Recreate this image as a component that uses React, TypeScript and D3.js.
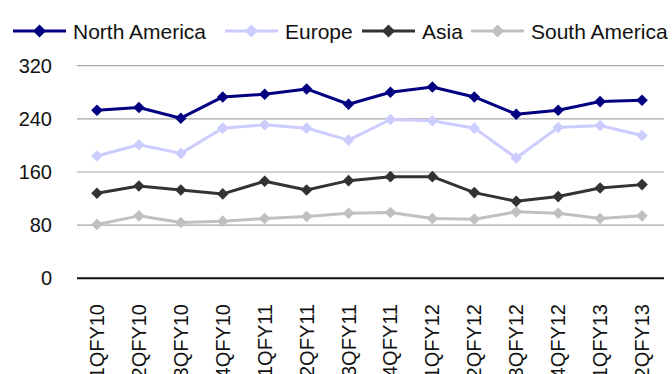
import React from "react";
import * as d3 from "d3";

const quarters = [
  "1QFY10", "2QFY10", "3QFY10", "4QFY10",
  "1QFY11", "2QFY11", "3QFY11", "4QFY11",
  "1QFY12", "2QFY12", "3QFY12", "4QFY12",
  "1QFY13", "2QFY13",
];

const northAmerica = [253, 257, 241, 273, 277, 285, 262, 280, 288, 273, 247, 253, 266, 268];
const europe = [184, 201, 188, 226, 231, 226, 208, 239, 237, 226, 181, 227, 230, 215];
const asia = [128, 139, 133, 127, 146, 133, 147, 153, 153, 129, 116, 123, 136, 141];
const southAmerica = [81, 94, 84, 86, 90, 93, 98, 99, 90, 89, 100, 98, 90, 94];

const yTicks = [0, 80, 160, 240, 320];

const seriesNames = ["North America", "Europe", "Asia", "South America"];
const seriesValues = [northAmerica, europe, asia, southAmerica];
const seriesColors = ["#000080", "#ccccff", "#333333", "#c0c0c0"];

const W = 672;
const H = 374;
const FONT = "'Liberation Sans', Arial, sans-serif";
// legend item left edges (layout only)
const legendX = [13, 225, 362, 471];

function Diamond({ x, y, r, color }: { x: number; y: number; r: number; color: string }) {
  return (
    <path
      d={`M${x},${y - r}L${x + r},${y}L${x},${y + r}L${x - r},${y}Z`}
      fill={color}
    />
  );
}

export default function App() {
  const x = d3.scalePoint<string>().domain(quarters).range([76, 663]).padding(0.5);
  const y = d3.scaleLinear().domain([0, 320]).range([278.3, 65.7]);

  const line = d3
    .line<number>()
    .x((_, i) => x(quarters[i]) as number)
    .y((d) => y(d));

  return (
    <svg
      width={W}
      height={H}
      style={{ position: "absolute", left: 0, top: 0, background: "#fff" }}
      fontFamily={FONT}
    >
      {/* gridlines */}
      {yTicks.map((t) => (
        <line
          key={t}
          x1={77}
          x2={664}
          y1={y(t)}
          y2={y(t)}
          stroke={t === 0 ? "#111" : "#a6a6a6"}
          strokeWidth={t === 0 ? 2 : 1.2}
        />
      ))}
      {yTicks.map((t) => (
        <text
          key={"l" + t}
          x={52}
          y={y(t)}
          textAnchor="end"
          dominantBaseline="central"
          fontSize={20}
          fill="#111"
        >
          {t}
        </text>
      ))}

      {/* x labels */}
      {quarters.map((q) => (
        <text
          key={q}
          transform={`translate(${x(q)},304) rotate(-90)`}
          textAnchor="end"
          dominantBaseline="central"
          fontSize={20}
          fill="#111"
        >
          {q}
        </text>
      ))}

      {/* series, drawn bottom-up so North America sits on top */}
      {seriesValues
        .map((vals, si) => ({ vals, si }))
        .reverse()
        .map(({ vals, si }) => (
          <g key={seriesNames[si]}>
            <path
              d={line(vals) as string}
              fill="none"
              stroke={seriesColors[si]}
              strokeWidth={3}
              strokeLinejoin="round"
            />
            {vals.map((v, i) => (
              <Diamond key={i} x={x(quarters[i]) as number} y={y(v)} r={5.8} color={seriesColors[si]} />
            ))}
          </g>
        ))}

      {/* legend */}
      {seriesNames.map((name, si) => {
        const lx = legendX[si];
        const ly = 31;
        return (
          <g key={"lg" + name}>
            <line x1={lx} x2={lx + 53} y1={ly} y2={ly} stroke={seriesColors[si]} strokeWidth={3} />
            <Diamond x={lx + 26.5} y={ly} r={6.5} color={seriesColors[si]} />
            <text
              x={lx + 60}
              y={ly}
              dominantBaseline="central"
              fontSize={21}
              fill="#111"
            >
              {name}
            </text>
          </g>
        );
      })}
    </svg>
  );
}
